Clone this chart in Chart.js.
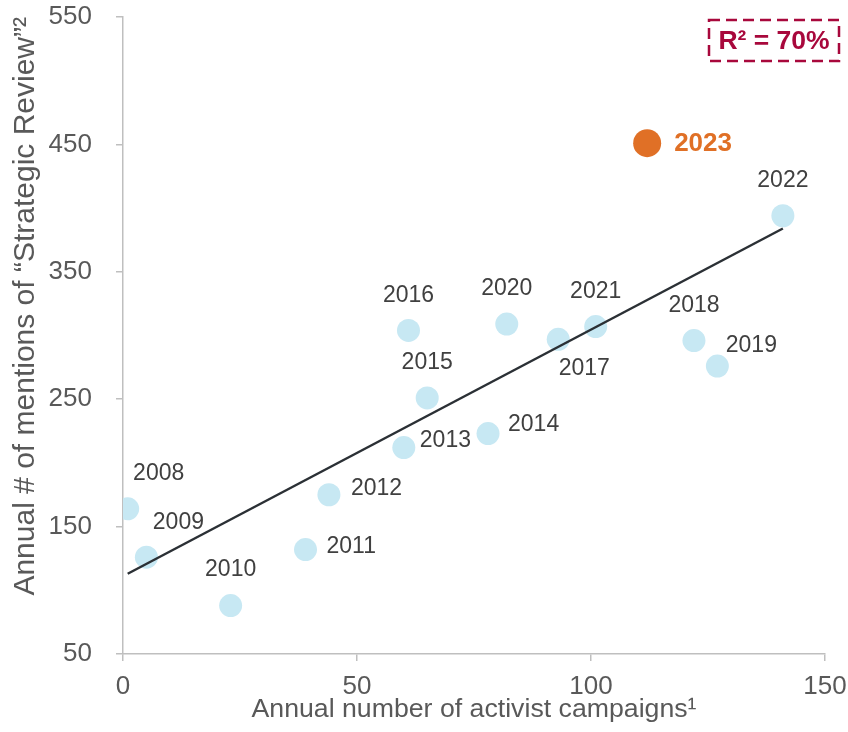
<!DOCTYPE html>
<html>
<head>
<meta charset="utf-8">
<script src="https://cdn.jsdelivr.net/npm/chart.js@4.4.1/dist/chart.umd.min.js"></script>
<style>
  html, body { margin: 0; padding: 0; background: #fff; }
  #wrap { width: 848px; height: 732px; position: relative; }
</style>
</head>
<body>
<div id="wrap"><canvas id="scatterChart"></canvas></div>
<script>
// --- Data ---
const years = ['2008', '2009', '2010', '2011', '2012', '2013', '2014', '2015', '2016', '2017', '2018', '2019', '2020', '2021', '2022'];
const campaigns = [1, 5, 23, 39, 44, 60, 78, 65, 61, 93, 122, 127, 82, 101, 141];
const mentions = [164, 126, 88, 132, 175, 212, 223, 251, 304, 297, 296, 276, 309, 307, 394];

const highlightYear = '2023';
const highlightCampaigns = 112;
const highlightMentions = 451;

const trendX = [1, 141];
const trendY = [113, 384];

const rSquaredText = 'R² = 70%';

const FONT = '"Liberation Sans", Arial, sans-serif';

// where each year label sits relative to its dot
const labelOffsets = {
    '2008': { dx: 31, dy: -35, align: 'center' },
    '2009': { dx: 32, dy: -35, align: 'center' },
    '2010': { dx: 0, dy: -36, align: 'center' },
    '2011': { dx: 21, dy: -3, align: 'left' },
    '2012': { dx: 22, dy: -6, align: 'left' },
    '2013': { dx: 16, dy: -7, align: 'left' },
    '2014': { dx: 20, dy: -9, align: 'left' },
    '2015': { dx: 0, dy: -35, align: 'center' },
    '2016': { dx: 0, dy: -35, align: 'center' },
    '2017': { dx: 26, dy: 29, align: 'center' },
    '2018': { dx: 0, dy: -35, align: 'center' },
    '2019': { dx: 34, dy: -20, align: 'center' },
    '2020': { dx: 0, dy: -35, align: 'center' },
    '2021': { dx: 0, dy: -35, align: 'center' },
    '2022': { dx: 0, dy: -35, align: 'center' }
};

const annotationsPlugin = {
    id: 'annotations',
    afterDatasetsDraw(chart) {
        const ctx = chart.ctx;
        ctx.save();
        ctx.textBaseline = 'middle';

        // year labels
        const meta = chart.getDatasetMeta(1);
        ctx.font = '23px ' + FONT;
        ctx.fillStyle = '#404040';
        meta.data.forEach((pt, i) => {
            const off = labelOffsets[years[i]] || { dx: 0, dy: -35, align: 'center' };
            ctx.textAlign = off.align;
            ctx.fillText(years[i], pt.x + off.dx, pt.y + off.dy);
        });

        // 2023 highlight label
        const hl = chart.getDatasetMeta(2).data[0];
        if (hl) {
            ctx.font = 'bold 26px ' + FONT;
            ctx.fillStyle = '#e07026';
            ctx.textAlign = 'left';
            ctx.fillText(highlightYear, hl.x + 27, hl.y + 1);
        }

        // R² box
        const area = chart.chartArea;
        const bx = area.right - 116, by = 20, bw = 130, bh = 41;
        ctx.strokeStyle = '#a8083c';
        ctx.lineWidth = 2.5;
        ctx.setLineDash([11, 6]);
        ctx.strokeRect(bx, by, bw, bh);
        ctx.setLineDash([]);
        ctx.font = 'bold 26.5px ' + FONT;
        ctx.fillStyle = '#a8083c';
        ctx.textAlign = 'center';
        ctx.fillText(rSquaredText, bx + bw / 2, by + bh / 2 + 1);

        ctx.restore();
    }
};

const ctx = document.getElementById('scatterChart');

new Chart(ctx, {
    type: 'scatter',
    data: {
        datasets: [
            {
                type: 'line',
                label: 'Trend',
                data: trendX.map((x, i) => ({ x, y: trendY[i] })),
                borderColor: '#2b3035',
                borderWidth: 2.5,
                pointRadius: 0,
                fill: false
            },
            {
                label: 'Years',
                data: campaigns.map((x, i) => ({ x, y: mentions[i] })),
                backgroundColor: '#c7e8f3',
                borderWidth: 0,
                pointRadius: 11.5,
                pointHoverRadius: 11.5
            },
            {
                label: highlightYear,
                data: [{ x: highlightCampaigns, y: highlightMentions }],
                backgroundColor: '#e07026',
                borderWidth: 0,
                pointRadius: 14,
                pointHoverRadius: 14
            }
        ]
    },
    options: {
        responsive: true,
        maintainAspectRatio: false,
        animation: false,
        layout: { padding: { top: 17, right: 23, left: 0, bottom: 0 } },
        plugins: {
            legend: { display: false },
            tooltip: { enabled: false }
        },
        scales: {
            x: {
                type: 'linear',
                min: 0,
                max: 150,
                ticks: { stepSize: 50, color: '#595959', font: { family: FONT, size: 26 }, padding: 10 },
                grid: { drawOnChartArea: false, drawTicks: true, tickLength: 7, color: '#bfbfbf', lineWidth: 1.5 },
                border: { color: '#bfbfbf', width: 1.5 },
                title: {
                    display: true,
                    text: 'Annual number of activist campaigns¹',
                    color: '#595959',
                    font: { family: FONT, size: 26.7 },
                    padding: { top: 0, bottom: 6 }
                },
                afterFit(scale) {
                    scale.height = 78;
                    scale.paddingLeft = 0;
                    scale.paddingRight = 0;
                }
            },
            y: {
                type: 'linear',
                min: 50,
                max: 550,
                ticks: { stepSize: 100, color: '#595959', font: { family: FONT, size: 26 }, padding: 24 },
                grid: { drawOnChartArea: false, drawTicks: true, tickLength: 7, color: '#bfbfbf', lineWidth: 1.5 },
                border: { color: '#bfbfbf', width: 1.5 },
                title: {
                    display: true,
                    text: 'Annual # of mentions of “Strategic Review”²',
                    color: '#595959',
                    align: 'end',
                    font: { family: FONT, size: 30 },
                    padding: { top: 8, bottom: 0 }
                },
                afterFit(scale) {
                    scale.width = 123;
                    scale.paddingTop = 0;
                    scale.paddingBottom = 0;
                }
            }
        }
    },
    plugins: [annotationsPlugin]
});
</script>
</body>
</html>
